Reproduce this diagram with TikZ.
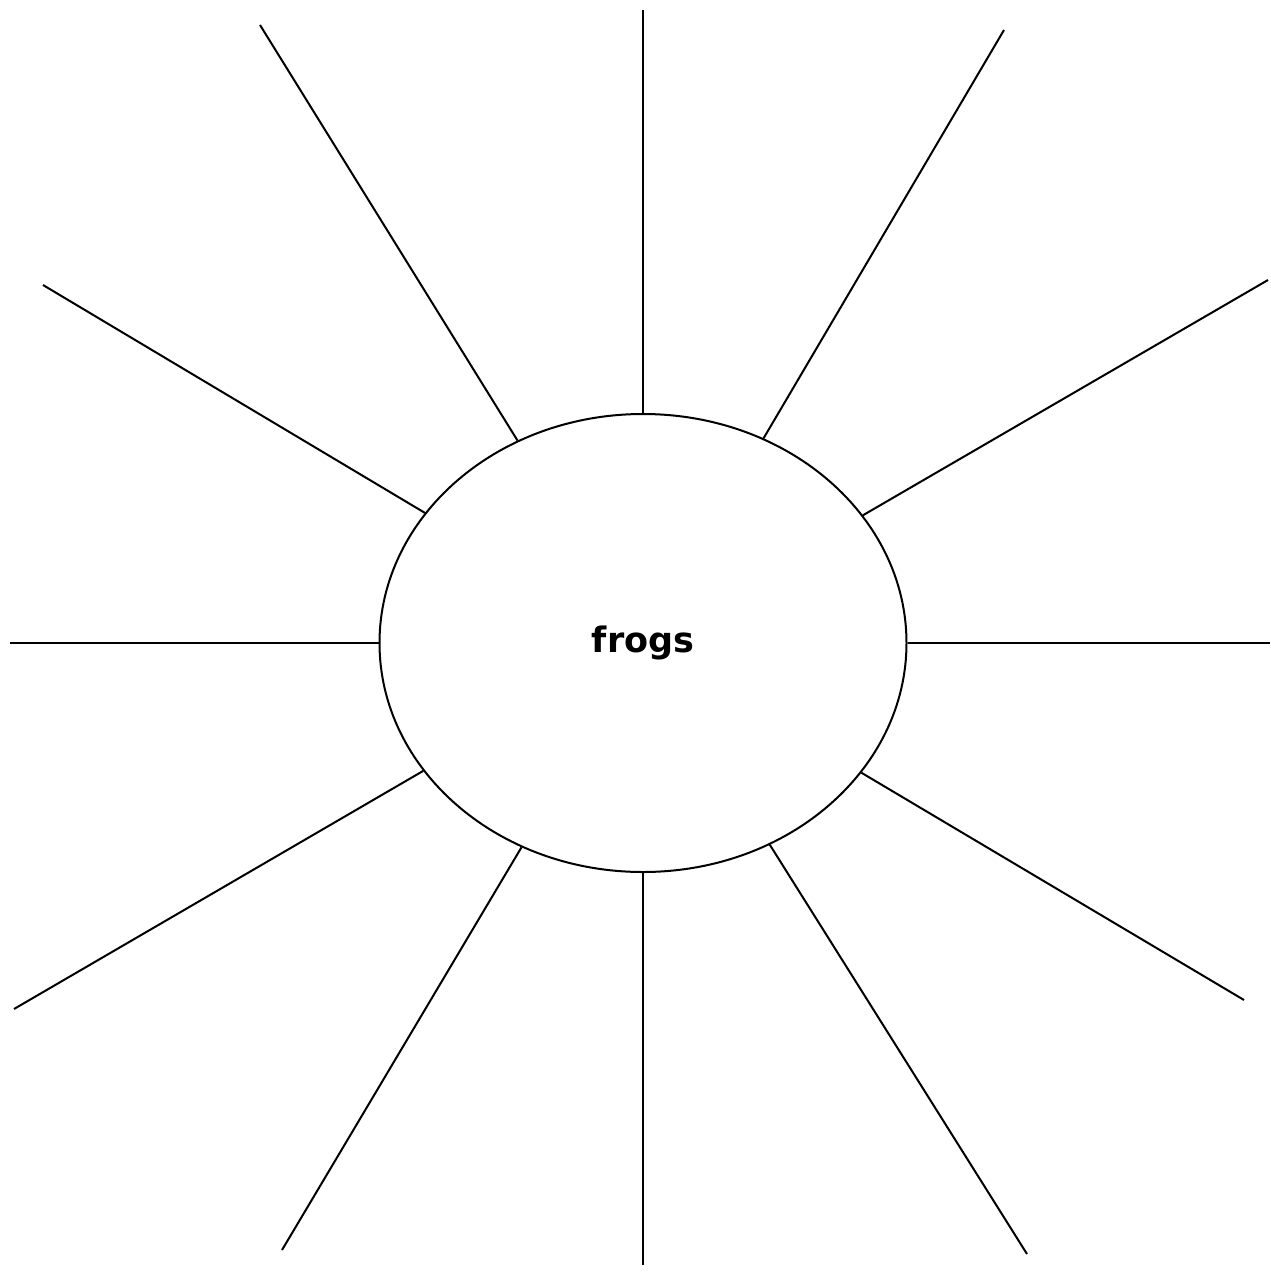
\documentclass[tikz,border=0pt]{standalone}
\usepackage{fontspec}
\newfontfamily\labelfont{DejaVu Sans}
\usetikzlibrary{shapes.geometric}
\begin{document}
\begin{tikzpicture}[x=1pt,y=-1pt,
  ray/.style={line width=2pt,black},
  hub/.style={ellipse,draw,line width=2pt,minimum width=527pt,minimum height=458pt,inner sep=0pt,
    font=\labelfont\bfseries\fontsize{35}{40}\selectfont}]
\useasboundingbox (0,0) rectangle (1270,1274);
\node[hub] (e) at (643,643) {frogs};
\coordinate (t) at (643,10);
\coordinate (b) at (643,1265);
\coordinate (l) at (10,643);
\coordinate (r) at (1270,643);
\coordinate (ul1) at (260,25);
\coordinate (ur1) at (1004,30);
\coordinate (ul2) at (43,285);
\coordinate (ur2) at (1268,280);
\coordinate (ll2) at (14,1009);
\coordinate (lr2) at (1244,1000);
\coordinate (ll1) at (282,1250);
\coordinate (lr1) at (1027,1254);
\foreach \p in {t,b,l,r,ul1,ur1,ul2,ur2,ll2,lr2,ll1,lr1}
  \draw[ray] (\p) -- (e);
\end{tikzpicture}
\end{document}
